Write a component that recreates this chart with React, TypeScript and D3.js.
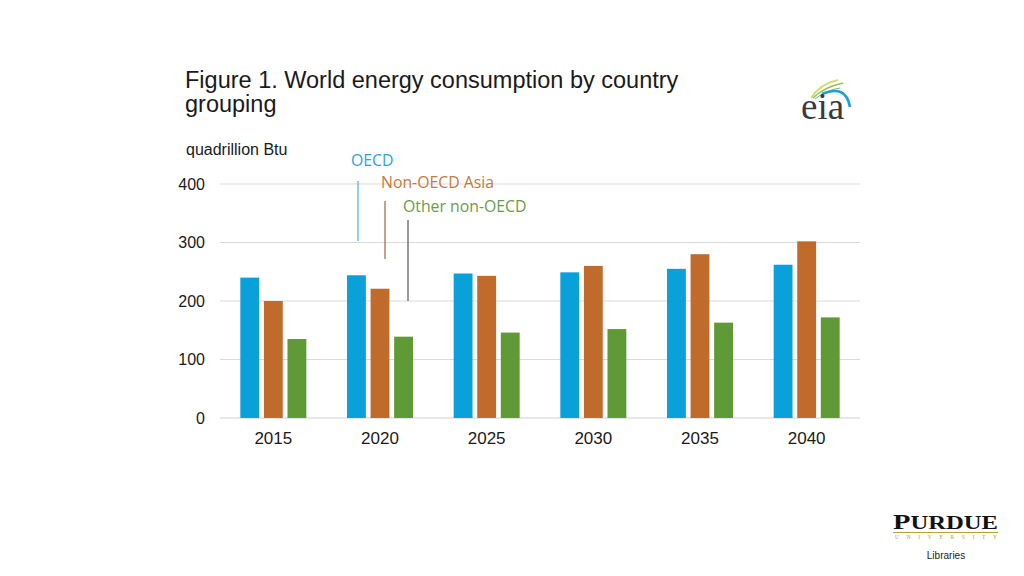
import React from "react";
import * as d3 from "d3";

const years = ["2015", "2020", "2025", "2030", "2035", "2040"];
const seriesNames = ["OECD", "Non-OECD Asia", "Other non-OECD"];
const oecd = [240, 244, 247, 249, 255, 262];
const nonOecdAsia = [200, 221, 243, 260, 280, 302];
const otherNonOecd = [135, 139, 146, 152, 163, 172];
const yTicks = [0, 100, 200, 300, 400];
const colors = ["#0aa0da", "#c06b2c", "#5f9a37"];

const seriesValues = [oecd, nonOecdAsia, otherNonOecd];

export default function App() {
  const x0 = d3.scaleBand<string>().domain(years).range([220, 860]).paddingInner(0).paddingOuter(0);
  const x1 = d3.scaleBand<string>().domain(seriesNames).range([0, 66]).paddingInner(0.2);
  const y = d3.scaleLinear().domain([0, 400]).range([418, 184]);
  const groupOffset = (x0.bandwidth() - 66) / 2;

  const legend = [
    { name: "OECD", tx: 351, ty: 166, lx: 358, l1: 181, l2: 241, lineColor: "#3fb6dc", textColor: "#2aa6d6" },
    { name: "Non-OECD Asia", tx: 381, ty: 188, lx: 385, l1: 201, l2: 259, lineColor: "#a0643a", textColor: "#c47a42" },
    { name: "Other non-OECD", tx: 403, ty: 212, lx: 408, l1: 220, l2: 301, lineColor: "#555555", textColor: "#6c9a4c" },
  ];

  const sans = "Liberation Sans, Arial, sans-serif";

  return (
    <svg width={1024} height={576} style={{ position: "absolute", left: 0, top: 0, display: "block", background: "#fff" }}>
      <rect x={0} y={0} width={1024} height={576} fill="#ffffff" />
      {/* Title */}
      <text x={185} y={87.5} fontFamily={sans} fontSize={23.5} fill="#1a1a1a">
        Figure 1. World energy consumption by country
      </text>
      <text x={185} y={112} fontFamily={sans} fontSize={23.5} fill="#1a1a1a">
        grouping
      </text>
      <text x={186} y={155} fontFamily={sans} fontSize={16} fill="#1a1a1a">
        quadrillion Btu
      </text>

      {/* Gridlines */}
      {yTicks.map((t) => (
        <line key={t} x1={220} x2={860} y1={y(t)} y2={y(t)} stroke={t === 0 ? "#d0d0d0" : "#d9d9d9"} strokeWidth={1} />
      ))}
      {yTicks.map((t) => (
        <text key={"l" + t} x={205} y={y(t) + 5.5} textAnchor="end" fontFamily={sans} fontSize={16} fill="#1a1a1a">
          {t}
        </text>
      ))}

      {/* Bars */}
      {years.map((yr, i) => (
        <g key={yr} transform={`translate(${(x0(yr) ?? 0) + groupOffset},0)`}>
          {seriesNames.map((s, j) => (
            <rect
              key={s}
              x={x1(s)}
              y={y(seriesValues[j][i])}
              width={x1.bandwidth()}
              height={y(0) - y(seriesValues[j][i])}
              fill={colors[j]}
            />
          ))}
        </g>
      ))}

      {/* Year labels */}
      {years.map((yr) => (
        <text key={"x" + yr} x={(x0(yr) ?? 0) + x0.bandwidth() / 2} y={444} textAnchor="middle" fontFamily={sans} fontSize={17} fill="#1a1a1a">
          {yr}
        </text>
      ))}

      {/* Legend annotations */}
      {legend.map((l) => (
        <g key={l.name}>
          <line x1={l.lx} x2={l.lx} y1={l.l1} y2={l.l2} stroke={l.lineColor} strokeWidth={1.2} />
          <text x={l.tx} y={l.ty} fontFamily="Open Sans, sans-serif" fontSize={15.8} fill={l.textColor}>
            {l.name}
          </text>
        </g>
      ))}

      {/* eia logo */}
      <g>
        <path d="M811,98 Q820,84 838,80" fill="none" stroke="#d6dc72" strokeWidth={2} />
        <path d="M813,98 Q824,87 843,83" fill="none" stroke="#94c05a" strokeWidth={1.6} />
        <path d="M815,99 Q826,90 840,88" fill="none" stroke="#6fb6a0" strokeWidth={1} />
        <path d="M822,94 Q846,84 850,107" fill="none" stroke="#1f9fd2" strokeWidth={2.6} />
        <text x={801} y={118.5} fontFamily="Liberation Serif, Times New Roman, serif" fontSize={37} fill="#3a3a3a">
          eia
        </text>
      </g>

      {/* Purdue logo */}
      <g>
        <text x={893} y={529} fontFamily="Liberation Serif, Times New Roman, serif" fontWeight="bold" fontSize={19} fill="#111" textLength={105} lengthAdjust="spacingAndGlyphs">
          <tspan fontSize={22}>P</tspan>URDUE
        </text>
        <line x1={893} x2={998} y1={532.5} y2={532.5} stroke="#b5a33a" strokeWidth={1} />
        <text x={895} y={539} fontFamily="Liberation Serif, Times New Roman, serif" fontSize={5.5} fill="#b5a33a" textLength={102} lengthAdjust="spacing">
          UNIVERSITY
        </text>
        <text x={946} y={559} textAnchor="middle" fontFamily={sans} fontSize={10} fill="#222">
          Libraries
        </text>
      </g>
    </svg>
  );
}
